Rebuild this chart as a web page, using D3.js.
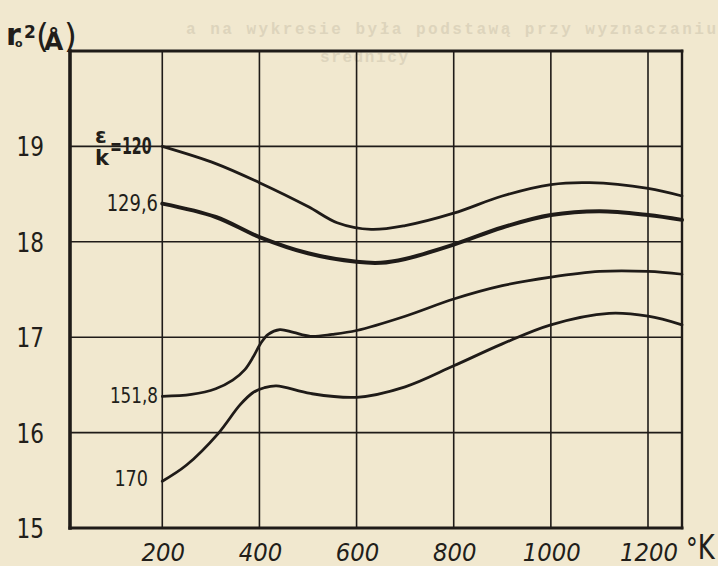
<!DOCTYPE html>
<html>
<head>
<meta charset="utf-8">
<script src="https://cdn.jsdelivr.net/npm/d3@7"></script>
<style>
  html, body { margin: 0; padding: 0; background: #f1e8cf; }
  svg { display: block; }
  .lbl { font-family: "DejaVu Sans", "Liberation Sans", sans-serif; fill: #221e1a; }
</style>
</head>
<body>
<svg id="chart" width="718" height="566"></svg>
<script>
// Temperature ticks (K) and r0^2 ticks (Å^2)
const xTicks = [200, 400, 600, 800, 1000, 1200];
const yTicks = [15, 16, 17, 18, 19];

// Curves r0^2(T) for several values of ε/k
const seriesNames = ["120", "129,6", "151,8", "170"];

const temps120 = [200, 310, 400, 500, 560, 630, 700, 800, 900, 1000, 1080, 1200, 1270];
const r2_120   = [19.00, 18.82, 18.62, 18.37, 18.20, 18.13, 18.17, 18.30, 18.48, 18.60, 18.62, 18.56, 18.48];

const temps1296 = [200, 310, 400, 500, 600, 650, 700, 800, 900, 1000, 1100, 1200, 1270];
const r2_1296   = [18.40, 18.26, 18.05, 17.88, 17.79, 17.78, 17.82, 17.97, 18.15, 18.28, 18.32, 18.28, 18.23];

const temps1518 = [200, 260, 310, 345, 370, 388, 402, 418, 442, 470, 505, 550, 600, 700, 800, 900, 1000, 1100, 1200, 1270];
const r2_1518   = [16.38, 16.40, 16.46, 16.55, 16.66, 16.80, 16.93, 17.03, 17.08, 17.05, 17.01, 17.03, 17.07, 17.22, 17.40, 17.54, 17.63, 17.69, 17.69, 17.66];

const temps170 = [200, 250, 315, 360, 387, 410, 435, 505, 600, 700, 800, 900, 1000, 1120, 1200, 1270];
const r2_170   = [15.49, 15.66, 15.99, 16.29, 16.42, 16.47, 16.49, 16.41, 16.37, 16.48, 16.70, 16.93, 17.13, 17.25, 17.22, 17.13];

const ink = "#1f1b18";
const svg = d3.select("#chart");

const x = d3.scaleLinear().domain([10, 1270]).range([70, 682]);
const y = d3.scaleLinear().domain([15, 20]).range([528, 51]);

// text drawn with a horizontal squeeze, the lettering is narrow
function label(g, px, py, str, size, opts = {}) {
  const t = g.append("text").attr("class", "lbl")
    .attr("transform", `translate(${px},${py}) scale(${opts.sx || 1},1)`)
    .attr("text-anchor", opts.anchor || "start")
    .style("font-size", size + "px")
    .text(str);
  if (opts.bold) t.style("font-weight", "bold");
  if (opts.italic) t.style("font-style", "italic");
  return t;
}

// faint show-through of the facing page's typescript
const ghost = svg.append("g")
  .style("font-family", "'Liberation Mono', 'DejaVu Sans Mono', monospace")
  .style("font-size", "16px").style("font-weight", "bold")
  .style("fill", "#ddd4bc");
ghost.append("text")
  .attr("x", 186).attr("y", 34)
  .attr("textLength", 530).attr("lengthAdjust", "spacing")
  .text("a na wykresie była podstawą przy wyznaczaniu");
ghost.append("text")
  .attr("x", 320).attr("y", 62)
  .attr("textLength", 88).attr("lengthAdjust", "spacing")
  .text("średnicy");

// grid
const grid = svg.append("g").attr("stroke", ink).attr("stroke-width", 1.6).attr("fill", "none");
grid.selectAll("line.v").data(xTicks).join("line")
  .attr("x1", d => x(d)).attr("x2", d => x(d))
  .attr("y1", y(20)).attr("y2", y(15));
grid.selectAll("line.h").data(yTicks.filter(d => d > 15)).join("line")
  .attr("x1", x(10)).attr("x2", x(1270))
  .attr("y1", d => y(d)).attr("y2", d => y(d));

// frame
const frame = svg.append("g").attr("stroke", ink).attr("fill", "none").attr("stroke-linecap", "square");
frame.append("line").attr("x1", x(10)).attr("x2", x(1270)).attr("y1", y(20)).attr("y2", y(20)).attr("stroke-width", 2.8);
frame.append("line").attr("x1", x(1270)).attr("x2", x(1270)).attr("y1", y(20)).attr("y2", y(15)).attr("stroke-width", 2.4);
frame.append("line").attr("x1", x(10)).attr("x2", x(1270)).attr("y1", y(15)).attr("y2", y(15)).attr("stroke-width", 3);
frame.append("line").attr("x1", x(10)).attr("x2", x(10)).attr("y1", y(20)).attr("y2", y(15)).attr("stroke-width", 3.6);

// curves
const line = d3.line()
  .x(d => x(d[0])).y(d => y(d[1]))
  .curve(d3.curveCatmullRom.alpha(0.5));

const curves = [
  { name: seriesNames[0], pts: d3.zip(temps120, r2_120), w: 2.8 },
  { name: seriesNames[1], pts: d3.zip(temps1296, r2_1296), w: 4.0 },
  { name: seriesNames[2], pts: d3.zip(temps1518, r2_1518), w: 2.7 },
  { name: seriesNames[3], pts: d3.zip(temps170, r2_170), w: 2.8 }
];
svg.append("g").selectAll("path").data(curves).join("path")
  .attr("d", d => line(d.pts))
  .attr("fill", "none").attr("stroke", ink)
  .attr("stroke-width", d => d.w)
  .attr("stroke-linecap", "round");

// y tick labels
const yl = svg.append("g");
yTicks.forEach(v => label(yl, 44, y(v) + 10, v, 27, { anchor: "end", sx: 0.8 }));

// x tick labels
const xl = svg.append("g");
xTicks.forEach(v => label(xl, x(v) + 1, 561, v, 24, { anchor: "middle", italic: true, sx: 0.95 }));

// unit of the x axis
const unit = svg.append("text").attr("class", "lbl")
  .attr("transform", "translate(686,559) scale(0.76,1)");
unit.append("tspan").style("font-size", "31px").text("°");
unit.append("tspan").style("font-size", "34px").text("K");

// y axis title: r0²(Å)
const yt = svg.append("text").attr("class", "lbl").style("font-weight", "bold");
yt.append("tspan").attr("x", 6).attr("y", 45).style("font-size", "30px").text("r");
yt.append("tspan").attr("x", 15).attr("y", 47).style("font-size", "11px").text("o");
yt.append("tspan").attr("x", 24).attr("y", 38).style("font-size", "17px").text("2");
yt.append("tspan").attr("x", 36).attr("y", 48).style("font-size", "33px").style("font-weight", "normal").text("(");
yt.append("tspan").attr("x", 44).attr("y", 50).style("font-size", "25px").text("Å");
yt.append("tspan").attr("x", 64).attr("y", 48).style("font-size", "33px").style("font-weight", "normal").text(")");

// curve labels: ε/k = 120 written as a fraction resting on the 19 grid line
const frac = svg.append("text").attr("class", "lbl").style("font-weight", "bold");
frac.append("tspan").attr("x", 95).attr("y", 143).style("font-size", "21px").text("ε");
frac.append("tspan").attr("x", 95).attr("y", 165).style("font-size", "21px").text("k");
const eq = svg.append("g");
label(eq, 110, 154, "=" + seriesNames[0], 23, { sx: 0.62, bold: true });

const lab = svg.append("g");
label(lab, 158, 211, seriesNames[1], 23, { anchor: "end", sx: 0.78 });
label(lab, 158, 403, seriesNames[2], 21, { anchor: "end", sx: 0.8 });
label(lab, 148, 486, seriesNames[3], 22, { anchor: "end", sx: 0.8 });
</script>
</body>
</html>
